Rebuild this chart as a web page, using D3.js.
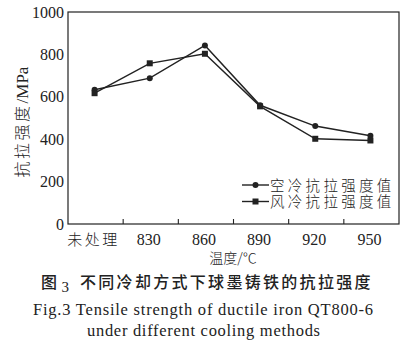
<!DOCTYPE html>
<html><head><meta charset="utf-8">
<script src="https://cdn.jsdelivr.net/npm/d3@7"></script>
<style>
html,body{margin:0;padding:0;background:#fff;}
svg{display:block;}
</style>
</head><body>
<svg id="chart" width="410" height="345"></svg>
<script>
const categories = ["未处理", "830", "860", "890", "920", "950"];
const airCooled = [633, 688, 842, 560, 462, 416];
const windCooled = [617, 758, 803, 555, 402, 394];
const yTicks = [0, 200, 400, 600, 800, 1000];
const seriesNames = ["空冷抗拉强度值", "风冷抗拉强度值"];

const SERIF = "'Liberation Serif', 'DejaVu Serif', serif";
const CJK = "'Noto Sans CJK SC', sans-serif";

const svg = d3.select("#chart");
const pL = 68, pR = 399, pT = 12, pB = 224;
const x = d3.scaleBand().domain(categories).range([pL, pR]).padding(0);
const y = d3.scaleLinear().domain([0, 1000]).range([pB, pT]);
const ink = "#222";

// frame
svg.append("rect").attr("x", pL).attr("y", pT).attr("width", pR - pL).attr("height", pB - pT)
  .attr("fill", "none").attr("stroke", ink).attr("stroke-width", 1.2);

// x ticks (inward) at band boundaries
const bounds = categories.slice(1).map(c => x(c));
svg.selectAll(".xt").data(bounds).enter().append("line")
  .attr("x1", d => d).attr("x2", d => d).attr("y1", pB).attr("y2", pB - 5)
  .attr("stroke", ink).attr("stroke-width", 1.1);

// x labels
svg.selectAll(".xl").data(categories).enter().append("text")
  .attr("font-family", (d, i) => i === 0 ? CJK : SERIF)
  .attr("x", d => x(d) + x.bandwidth() / 2 - 2)
  .attr("y", 245)
  .attr("text-anchor", "middle")
  .attr("font-size", (d, i) => i === 0 ? 15 : 16)
  .attr("letter-spacing", (d, i) => i === 0 ? 2.5 : 0)
  .attr("font-weight", (d, i) => i === 0 ? 300 : 400)
  .attr("fill", ink)
  .text(d => d);

// y labels
svg.selectAll(".yl").data(yTicks).enter().append("text")
  .attr("font-family", SERIF)
  .attr("x", 64).attr("y", d => y(d) + 5.5)
  .attr("text-anchor", "end").attr("font-size", 16).attr("fill", ink)
  .text(d => d);

// axis titles
svg.append("text").attr("font-family", CJK)
  .attr("x", 233).attr("y", 263).attr("text-anchor", "middle")
  .attr("font-size", 14).attr("font-weight", 300).attr("fill", ink)
  .text("温度/℃");

const yt = svg.append("text")
  .attr("transform", "translate(28,122) rotate(-90)")
  .attr("text-anchor", "middle").attr("fill", ink);
yt.append("tspan").attr("font-family", CJK).attr("font-size", 16).attr("font-weight", 300).attr("letter-spacing", 2.5).text("抗拉强度");
yt.append("tspan").attr("font-family", SERIF).attr("font-size", 17).text("/MPa");

// lines
const cx = i => x(categories[i]) + x.bandwidth() / 2 - 1;
const line = d3.line().x((d, i) => cx(i)).y(d => y(d));
svg.append("path").datum(airCooled).attr("d", line).attr("fill", "none").attr("stroke", ink).attr("stroke-width", 1.4);
svg.append("path").datum(windCooled).attr("d", line).attr("fill", "none").attr("stroke", ink).attr("stroke-width", 1.4);

svg.selectAll(".c").data(airCooled).enter().append("circle")
  .attr("cx", (d, i) => cx(i)).attr("cy", d => y(d))
  .attr("r", 3).attr("fill", ink);
svg.selectAll(".s").data(windCooled).enter().append("rect")
  .attr("x", (d, i) => cx(i) - 3).attr("y", d => y(d) - 3)
  .attr("width", 6).attr("height", 6).attr("fill", ink);

// legend
const lg = svg.append("g");
const ly = [185, 201.5];
seriesNames.forEach((name, i) => {
  lg.append("line").attr("x1", 242).attr("x2", 269).attr("y1", ly[i]).attr("y2", ly[i]).attr("stroke", ink).attr("stroke-width", 1.4);
  if (i === 0) lg.append("circle").attr("cx", 255.5).attr("cy", ly[i]).attr("r", 3).attr("fill", ink);
  else lg.append("rect").attr("x", 252.5).attr("y", ly[i] - 3).attr("width", 6).attr("height", 6).attr("fill", ink);
  lg.append("text").attr("font-family", CJK).attr("x", 270).attr("y", ly[i] + 5.5)
    .attr("font-size", 14.5).attr("font-weight", 300).attr("letter-spacing", 3.3).attr("fill", ink).text(name);
});

// captions
svg.append("text").attr("font-family", CJK).attr("x", 41).attr("y", 288).attr("font-size", 16).attr("font-weight", 500).attr("fill", ink).text("图");
svg.append("text").attr("font-family", SERIF).attr("x", 61.5).attr("y", 292).attr("font-size", 15).attr("fill", ink).text("3");
svg.append("text").attr("font-family", CJK).attr("x", 80).attr("y", 288).attr("font-size", 16).attr("font-weight", 500)
  .attr("letter-spacing", 2.3).attr("fill", ink).text("不同冷却方式下球墨铸铁的抗拉强度");
svg.append("text").attr("font-family", SERIF).attr("x", 33).attr("y", 315).attr("font-size", 16.5).attr("fill", ink)
  .attr("textLength", 340).attr("lengthAdjust", "spacing")
  .text("Fig.3  Tensile strength of ductile iron QT800-6");
svg.append("text").attr("font-family", SERIF).attr("x", 87).attr("y", 336).attr("font-size", 16.5).attr("fill", ink)
  .attr("textLength", 233).attr("lengthAdjust", "spacing")
  .text("under different cooling methods");
</script>
</body></html>
